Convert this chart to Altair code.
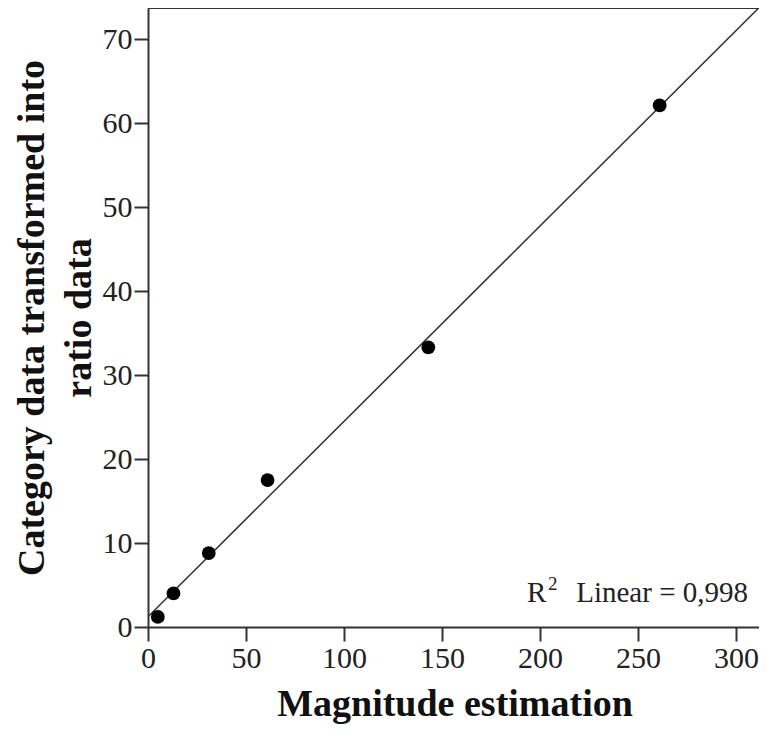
import altair as alt
import pandas as pd

magnitude = [5, 13, 31, 61, 143, 261]
category_ratio = [1.2, 4.0, 8.8, 17.5, 33.3, 62.1]
x_ticks = [0, 50, 100, 150, 200, 250, 300]
y_ticks = [0, 10, 20, 30, 40, 50, 60, 70]
x_domain = [0, 312.7]
y_domain = [0, 73.7]
r2_letter = "R"
r2_sup = "2"
r2_rest = "Linear = 0,998"

df = pd.DataFrame({"x": magnitude, "y": category_ratio})

FONT = "Liberation Serif"
W, H = 613, 619

xenc = alt.X("x:Q", scale=alt.Scale(domain=x_domain, nice=False, zero=False),
             axis=alt.Axis(values=x_ticks, title="Magnitude estimation", grid=False,
                           labelFont=FONT, labelFontSize=30, labelColor="#222",
                           titleFont=FONT, titleFontSize=38, titleFontWeight="bold",
                           titleColor="#111", titlePadding=12,
                           domainColor="#333", domainWidth=2, tickColor="#333",
                           tickWidth=2, tickSize=14, labelPadding=2, labelFlush=False))
yenc = alt.Y("y:Q", scale=alt.Scale(domain=y_domain, nice=False, zero=False),
             axis=alt.Axis(values=y_ticks, title=["Category data transformed into", "ratio data"],
                           grid=False, labelFont=FONT, labelFontSize=30, labelColor="#222",
                           titleFont=FONT, titleFontSize=38, titleFontWeight="bold",
                           titleColor="#111", titlePadding=4, titleLineHeight=47,
                           domainColor="#333", domainWidth=2, tickColor="#333",
                           tickWidth=2, tickSize=14, labelPadding=2, labelFlush=False))

base = alt.Chart(df)

line = base.transform_regression("x", "y", extent=x_domain).mark_line(
    color="#333", strokeWidth=1.5, clip=True
).encode(x=xenc, y=yenc)

points = base.mark_circle(size=190, color="black", opacity=1).encode(x="x:Q", y="y:Q")

top = alt.Chart(pd.DataFrame({"a": [0]})).mark_rule(color="#333", strokeWidth=2).encode(
    x=alt.value(0), x2=alt.value(W), y=alt.value(0))

lab_df = pd.DataFrame({"t": [r2_letter], "s": [r2_sup], "r": [r2_rest]})
lab_r = alt.Chart(lab_df).mark_text(
    font=FONT, fontSize=29, align="left", baseline="alphabetic", color="#222"
).encode(text="t:N", x=alt.value(379), y=alt.value(594))
lab_s = alt.Chart(lab_df).mark_text(
    font=FONT, fontSize=19, align="left", baseline="alphabetic", color="#222"
).encode(text="s:N", x=alt.value(400), y=alt.value(582))
lab_rest = alt.Chart(lab_df).mark_text(
    font=FONT, fontSize=29, align="right", baseline="alphabetic", color="#222"
).encode(text="r:N", x=alt.value(600), y=alt.value(594))

chart = alt.layer(line, points, top, lab_r, lab_s, lab_rest).properties(
    width=W, height=H,
    autosize=alt.AutoSizeParams(type="none"),
    padding={"left": 140, "top": 0, "right": -2, "bottom": 100},
).configure_view(stroke=None)

chart.save("out.html", embed_options={"renderer": "svg", "actions": False})
